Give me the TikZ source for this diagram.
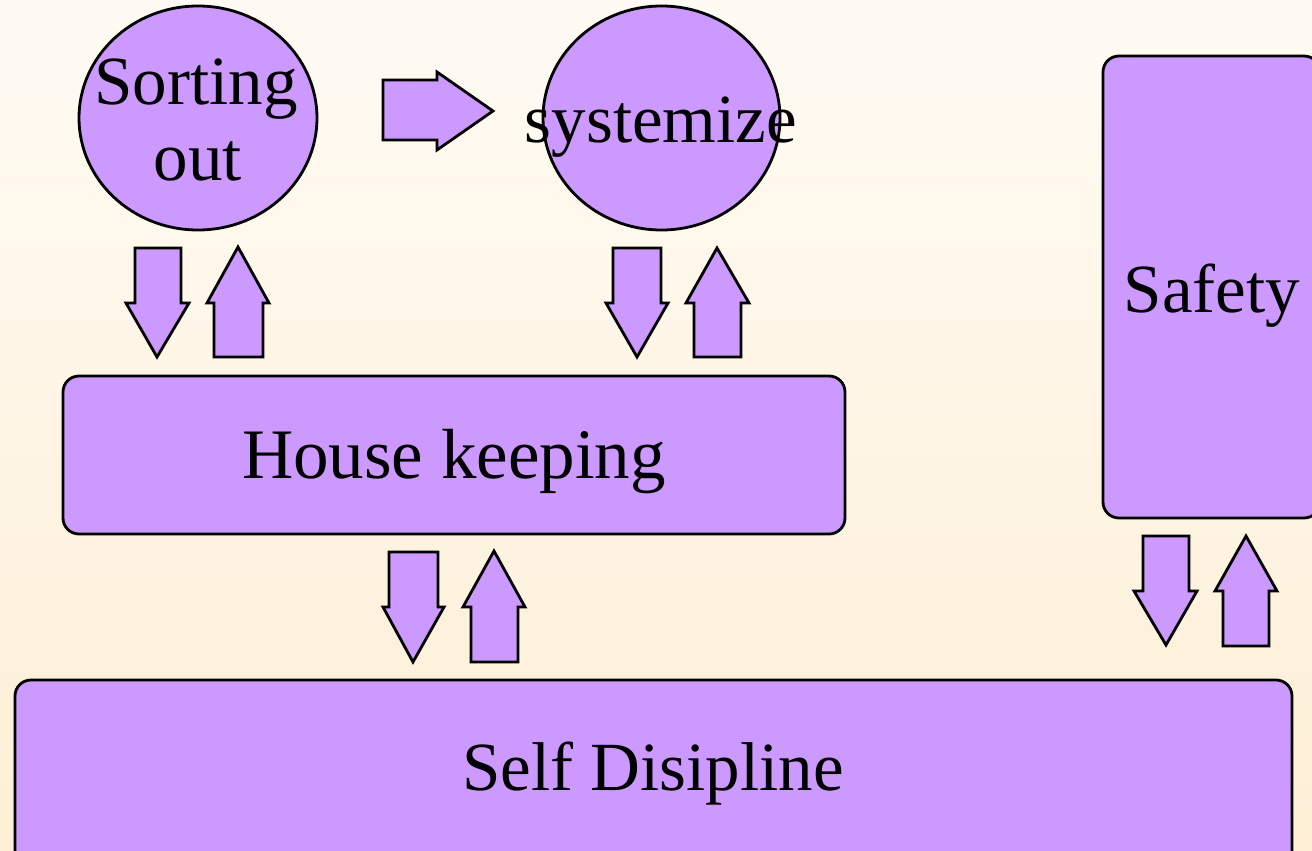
\documentclass[tikz,border=0pt]{standalone}
\usepackage{fontspec}
\setmainfont{Liberation Serif}
\usetikzlibrary{shapes.geometric}
\definecolor{boxfill}{HTML}{CC99FF}
\definecolor{bgtop}{HTML}{FFFBF4}
\definecolor{bgbot}{HTML}{FEEFD6}
\tikzset{
  shape line/.style={draw=black, line width=2.8pt, fill=boxfill, line join=miter},
  roundbox/.style={shape line, rectangle, rounded corners=16pt, inner sep=0pt},
  ovalbox/.style={shape line, ellipse, inner sep=0pt},
  bigtext/.style={font=\fontsize{69}{75}\selectfont, inner sep=0pt, align=center},
  blockarrow/.style={shape line}
}
\begin{document}
\begin{tikzpicture}[x=1pt,y=-1pt]
\useasboundingbox (0,0) rectangle (1312,851);
\shade[top color=bgtop, bottom color=bgbot] (0,0) rectangle (1312,851);

% ovals
\node[ovalbox, minimum width=238pt, minimum height=224pt] (sort) at (198,118) {};
\node[ovalbox, minimum width=237pt, minimum height=224pt] (syst) at (661.5,118) {};
\node[bigtext, anchor=base] (sortT) at (196,104) {Sorting};
\node[bigtext, anchor=base] (sortT2) at (198,180) {out};
\node[bigtext, anchor=base] (systT) at (661,142) {systemize};

% boxes
\node[roundbox, minimum width=217pt, minimum height=462pt] (safe) at (1211.5,287) {};
\node[bigtext, anchor=base] (safeT) at (1212,312) {Safety};
\node[roundbox, minimum width=782pt, minimum height=158pt] (house) at (454,455) {};
\node[bigtext, anchor=base, font=\fontsize{71}{75}\selectfont] (houseT) at (454,478) {House keeping};
\node[roundbox, minimum width=1277pt, minimum height=200pt] (self) at (653.5,780) {};
\node[bigtext, anchor=base] (selfT) at (653,790) {Self Disipline};

% right arrow between ovals
\draw[blockarrow] (383,80) -- (437,80) -- (437,72) -- (493,111) -- (437,150) -- (437,140) -- (383,140) -- cycle;

% down / up arrows: Sorting out <-> House keeping
\draw[blockarrow] (135,248) -- (181,248) -- (181,303) -- (189,303) -- (157,357) -- (126,303) -- (135,303) -- cycle;
\draw[blockarrow] (214,357) -- (263,357) -- (263,303) -- (269,303) -- (238,247) -- (207,303) -- (214,303) -- cycle;

% systemize <-> House keeping
\draw[blockarrow] (613,248) -- (661,248) -- (661,303) -- (668,303) -- (637,357) -- (606,303) -- (613,303) -- cycle;
\draw[blockarrow] (694,357) -- (741,357) -- (741,303) -- (749,303) -- (717,248) -- (686,303) -- (694,303) -- cycle;

% House keeping <-> Self Disipline
\draw[blockarrow] (389,552) -- (438,552) -- (438,607) -- (444,607) -- (413,662) -- (383,607) -- (389,607) -- cycle;
\draw[blockarrow] (471,662) -- (518,662) -- (518,607) -- (525,607) -- (494,551) -- (463,607) -- (471,607) -- cycle;

% Safety <-> Self Disipline
\draw[blockarrow] (1143,536) -- (1189,536) -- (1189,591) -- (1197,591) -- (1166,645) -- (1134,591) -- (1143,591) -- cycle;
\draw[blockarrow] (1223,646) -- (1269,646) -- (1269,591) -- (1277,591) -- (1246,536) -- (1215,591) -- (1223,591) -- cycle;
\end{tikzpicture}
\end{document}
